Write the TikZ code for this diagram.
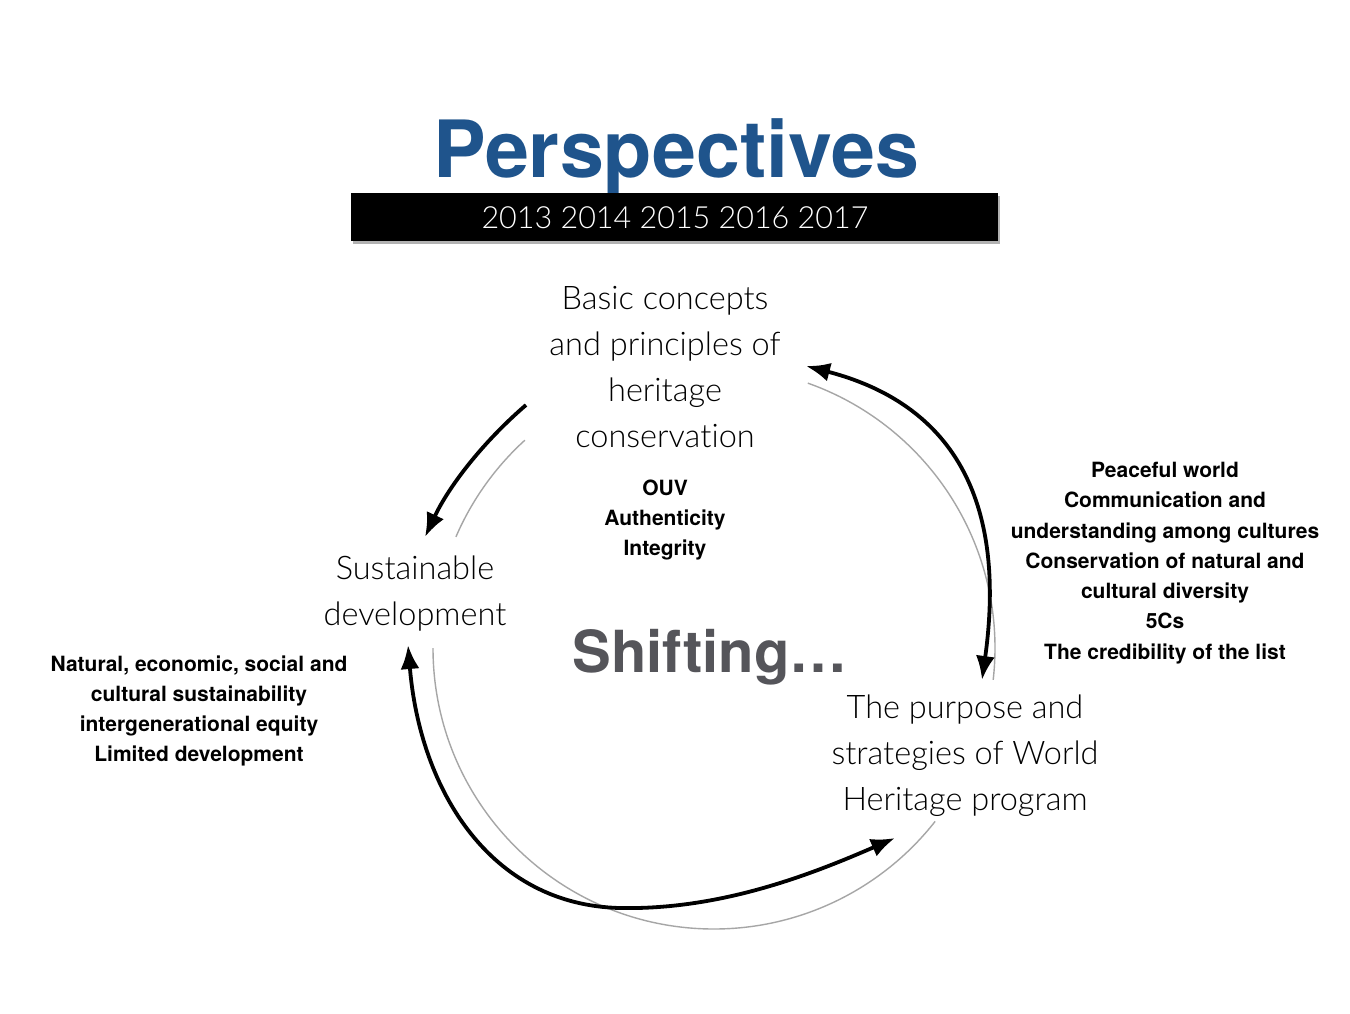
\documentclass[tikz,border=0pt]{standalone}
\usepackage{fontspec}
\setmainfont{TeX Gyre Heros}
\newfontfamily\lightfont{Lato Light}[Ligatures={NoCommon,NoRare,NoContextual}]
\usetikzlibrary{arrows.meta}
\definecolor{titleblue}{RGB}{31,84,140}
\definecolor{shiftgray}{RGB}{85,85,90}
\begin{document}
\begin{tikzpicture}[x=1pt,y=-1pt,
  lbl/.style={font=\lightfont\fontsize{32.5}{46}\selectfont, align=center, text=black, inner sep=0pt},
  lst/.style={font=\bfseries\fontsize{21}{30.3}\selectfont, align=center, inner sep=0pt},
  grayarc/.style={black!35, line width=1.4pt},
  tip/.tip={Latex[length=24pt,width=19pt]},
  arr/.style={line width=3.8pt, -tip},
  darr/.style={line width=3.8pt, tip-tip}
]
\useasboundingbox (0,0) rectangle (1350,1013);
\fill[white] (0,0) rectangle (1350,1013);

% title
\node[font=\bfseries\fontsize{79}{84}\selectfont, text=titleblue, inner sep=0pt, anchor=base] (title) at (676,177) {Perspectives};
\fill[black!30] (353,196) rectangle (1000,244);
\fill[black] (351,193) rectangle (998,241);
\node[font=\lightfont\fontsize{30.5}{34}\selectfont, text=white, inner sep=0pt] (years) at (675,218) {2013 2014 2015 2016 2017};

% main labels
\node[lbl] (basic) at (665,367) {Basic concepts\\and principles of\\heritage\\conserva\mbox{}tion};
\node[lbl] (sust) at (415,594) {Sustainable\\development};
\node[lbl] (purp) at (965,756) {The purpose and\\strategies of World\\Heritage program};

\node[lst] (ouv) at (665,520) {OUV\\Authenticity\\Integrity};
\node[lst] (rlist) at (1165,563) {Peaceful world\\Communication and\\understanding among cultures\\Conservation of natural and\\cultural diversity\\5Cs\\The credibility of the list};
\node[lst] (llist) at (199,711) {Natural, economic, social and\\cultural sustainability\\intergenerational equity\\Limited development};

\node[font=\bfseries\fontsize{58}{60}\selectfont, text=shiftgray, inner sep=0pt, anchor=base] (shift) at (710,672) {Shifting\ldots};

% gray cycle arcs
\coordinate (cc) at (714,648);
\draw[grayarc] (cc) ++(-132.3:281) arc[start angle=-132.3, end angle=-156.7, radius=281];
\draw[grayarc] (cc) ++(-70.5:281) arc[start angle=-70.5, end angle=6.5, radius=281];
\draw[grayarc] (cc) ++(180:281) arc[start angle=180, end angle=38.1, radius=281];

% black arrows
\coordinate (a1s) at (526,405);
\coordinate (a1e) at (425,537);
\draw[arr] (a1s) .. controls (483,442) and (449,486) .. (a1e);

\coordinate (a2s) at (806,366);
\coordinate (a2e) at (982,680);
\draw[darr] (a2s) .. controls (975,410) and (1003,530) .. (a2e);

\coordinate (a3s) at (408,645);
\coordinate (a3m) at (620,908);
\coordinate (a3e) at (895,838);
\draw[darr] (a3s) .. controls (420,790) and (490,905) .. (a3m) .. controls (720,910) and (810,875) .. (a3e);
\end{tikzpicture}
\end{document}
